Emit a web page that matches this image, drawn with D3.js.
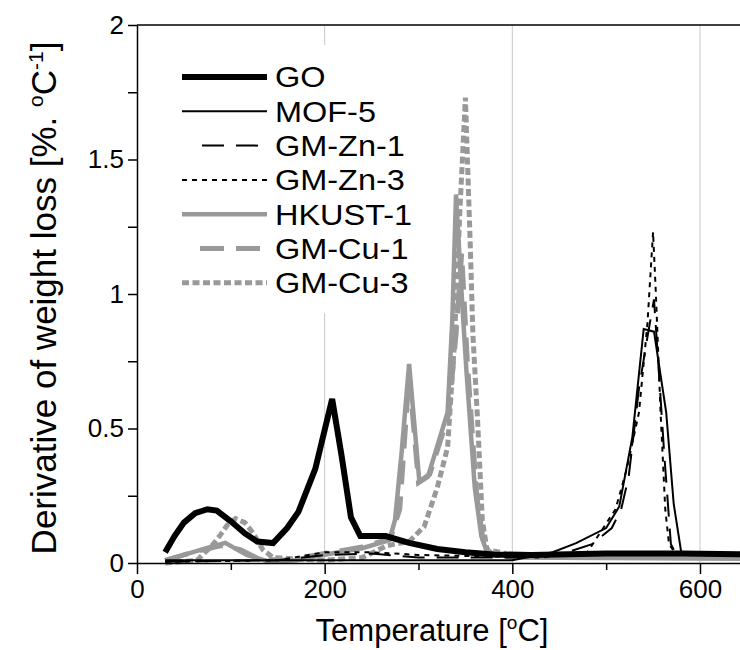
<!DOCTYPE html>
<html>
<head>
<meta charset="utf-8">
<script src="https://cdn.jsdelivr.net/npm/d3@7"></script>
<style>
  body { margin: 0; background: #fff; }
  text { font-family: "Liberation Sans", Arial, sans-serif; fill: #000; }
</style>
</head>
<body>
<svg id="chart" width="740" height="650"></svg>
<script>
// DTG curves, values
var goT = [30, 40, 50, 62, 75, 85, 100, 115, 128, 145, 160, 172, 190, 208, 218, 228, 238, 265, 290, 320, 350, 380, 420, 500, 580, 700];
var goY = [0.04, 0.1, 0.15, 0.185, 0.2, 0.195, 0.155, 0.11, 0.08, 0.074, 0.13, 0.19, 0.35, 0.61, 0.4, 0.17, 0.1, 0.1, 0.075, 0.052, 0.04, 0.032, 0.03, 0.035, 0.035, 0.03];

var mofT = [30, 100, 200, 300, 400, 443, 468, 500, 514, 528, 540, 551, 564, 572, 580, 600, 700];
var mofY = [0.01, 0.01, 0.01, 0.01, 0.01, 0.04, 0.074, 0.13, 0.21, 0.47, 0.87, 0.86, 0.56, 0.22, 0.04, 0.035, 0.03];

var zn1T = [30, 150, 200, 250, 300, 400, 450, 485, 506, 516, 524, 535, 544, 551, 556, 562, 569, 575, 600, 700];
var zn1Y = [0.005, 0.01, 0.03, 0.035, 0.02, 0.02, 0.03, 0.07, 0.13, 0.2, 0.32, 0.65, 0.84, 0.98, 0.72, 0.4, 0.07, 0.03, 0.03, 0.03];

var zn3T = [30, 150, 200, 250, 300, 430, 480, 510, 522, 535, 544, 550, 553, 558, 563, 567, 575, 700];
var zn3Y = [0.005, 0.01, 0.04, 0.04, 0.03, 0.02, 0.04, 0.2, 0.35, 0.56, 0.89, 1.23, 1.0, 0.56, 0.2, 0.07, 0.03, 0.03];

var hkT = [30, 50, 74, 94, 117, 141, 170, 198, 240, 269, 275, 282, 290, 301, 310, 331, 336, 340, 346, 351, 360, 367, 373, 400, 700];
var hkY = [0.01, 0.03, 0.055, 0.075, 0.03, 0.005, 0.01, 0.03, 0.055, 0.085, 0.16, 0.41, 0.74, 0.3, 0.32, 0.56, 0.9, 1.37, 1.0, 0.72, 0.28, 0.1, 0.04, 0.02, 0.015];

var cu1T = [30, 60, 90, 110, 130, 160, 200, 240, 270, 280, 290, 300, 312, 332, 340, 346, 352, 362, 370, 380, 700];
var cu1Y = [0.01, 0.04, 0.065, 0.05, 0.015, 0.01, 0.035, 0.06, 0.09, 0.2, 0.7, 0.3, 0.33, 0.55, 0.85, 1.15, 0.75, 0.25, 0.06, 0.03, 0.02];

var cu3T = [30, 64, 80, 88, 96, 105, 115, 124, 134, 145, 200, 240, 267, 290, 306, 320, 331, 338, 344, 350, 355, 358, 363, 368, 373, 400, 700];
var cu3Y = [0, 0.01, 0.065, 0.1, 0.14, 0.165, 0.15, 0.11, 0.05, 0.02, 0.01, 0.02, 0.065, 0.08, 0.135, 0.28, 0.43, 0.8, 1.3, 1.73, 1.2, 0.85, 0.53, 0.16, 0.05, 0.03, 0.02];

var seriesNames = ["GO", "MOF-5", "GM-Zn-1", "GM-Zn-3", "HKUST-1", "GM-Cu-1", "GM-Cu-3"];
var yTicks = [0, 0.5, 1, 1.5, 2];
var yMinor = [0.25, 0.75, 1.25, 1.75];
var xTicks = [0, 200, 400, 600];
var xMinor = [100, 300, 500];

var grey = "#999";
var styles = [
  { color: "#000", width: 6,   dash: null,    legX: 182 },
  { color: "#000", width: 2,   dash: null,    legX: 182 },
  { color: "#000", width: 2,   dash: "22,12", legX: 202 },
  { color: "#000", width: 2,   dash: "5,5",   legX: 182 },
  { color: grey,   width: 4.5, dash: null,    legX: 182 },
  { color: grey,   width: 5,   dash: "24,12", legX: 200 },
  { color: grey,   width: 5,   dash: "7,3.5", legX: 182 }
];
var series = [[goT, goY], [mofT, mofY], [zn1T, zn1Y], [zn3T, zn3Y], [hkT, hkY], [cu1T, cu1Y], [cu3T, cu3Y]];

var svg = d3.select("#chart");
var mLeft = 137, mTop = 25, mBottom = 563;

var x = d3.scaleLinear().domain([0, 700]).range([mLeft, mLeft + 700 * 0.9383]);
var y = d3.scaleLinear().domain([0, 2]).range([mBottom, mTop]);

svg.append("clipPath").attr("id", "plotclip")
  .append("rect").attr("x", mLeft).attr("y", mTop).attr("width", 740 - mLeft).attr("height", mBottom - mTop + 4);

// light vertical grid
svg.append("g").selectAll("line").data(xTicks.slice(1)).join("line")
  .attr("x1", d => x(d)).attr("x2", d => x(d))
  .attr("y1", mTop).attr("y2", mBottom)
  .attr("stroke", "#c8c8c8").attr("stroke-width", 1);

var line = d3.line().x(d => x(d[0])).y(d => y(d[1]));
var plot = svg.append("g").attr("clip-path", "url(#plotclip)");
// grey first, black on top
[4, 5, 6, 0, 1, 2, 3].forEach(function (i) {
  var pts = series[i][0].map((t, k) => [t, series[i][1][k]]);
  plot.append("path").datum(pts)
    .attr("d", line)
    .attr("fill", "none")
    .attr("stroke", styles[i].color)
    .attr("stroke-width", styles[i].width)
    .attr("stroke-dasharray", styles[i].dash);
});

// legend (white box hides the grid line)
svg.append("rect").attr("x", 165).attr("y", 45).attr("width", 260).attr("height", 268).attr("fill", "#fff");
var leg = svg.append("g");
seriesNames.forEach(function (name, i) {
  var ly = 77 + i * 34.3;
  leg.append("line")
    .attr("x1", styles[i].legX).attr("x2", 267).attr("y1", ly).attr("y2", ly)
    .attr("stroke", styles[i].color)
    .attr("stroke-width", styles[i].width)
    .attr("stroke-dasharray", styles[i].dash);
  leg.append("text").attr("transform", `translate(275,${ly}) scale(1.12,1)`).attr("dy", "0.36em")
    .style("font-size", "29px").text(name);
});

// axes
var yAxis = svg.append("g").attr("transform", `translate(${mLeft},0)`)
  .call(d3.axisLeft(y).tickValues(yTicks).tickSize(9).tickPadding(4).tickSizeOuter(0).tickFormat(d3.format("")));
svg.append("g").attr("transform", `translate(${mLeft},0)`)
  .call(d3.axisLeft(y).tickValues(yMinor).tickSize(9).tickFormat(""))
  .select(".domain").remove();
var xAxis = svg.append("g").attr("transform", `translate(0,${mBottom})`)
  .call(d3.axisBottom(x).tickValues(xTicks).tickSize(11).tickPadding(6).tickSizeOuter(0));
svg.append("g").attr("transform", `translate(0,${mBottom})`)
  .call(d3.axisBottom(x).tickValues(xMinor).tickSize(7).tickFormat(""))
  .select(".domain").remove();

svg.selectAll(".tick line, .domain").attr("stroke", "#000").attr("stroke-width", 1.5);
svg.selectAll(".tick text").style("font-size", "26px").style("font-family", "Liberation Sans, Arial, sans-serif").attr("fill", "#000");

// top frame
svg.append("line").attr("x1", mLeft).attr("x2", 740).attr("y1", mTop).attr("y2", mTop)
  .attr("stroke", "#000").attr("stroke-width", 1.5);

// axis titles
var xt = svg.append("text").attr("x", 432).attr("y", 641).attr("text-anchor", "middle").style("font-size", "31px");
xt.append("tspan").text("Temperature [");
xt.append("tspan").attr("dy", -12).style("font-size", "19px").text("o");
xt.append("tspan").attr("dy", 12).text("C]");

var yt = svg.append("text").attr("transform", "translate(56,298) rotate(-90)")
  .attr("text-anchor", "middle").style("font-size", "35px");
yt.append("tspan").text("Derivative of weight loss [%. ");
yt.append("tspan").attr("dy", -13).style("font-size", "21px").text("o");
yt.append("tspan").attr("dy", 13).text("C");
yt.append("tspan").attr("dy", -13).style("font-size", "21px").text("-1");
yt.append("tspan").attr("dy", 13).text("]");
</script>
</body>
</html>
